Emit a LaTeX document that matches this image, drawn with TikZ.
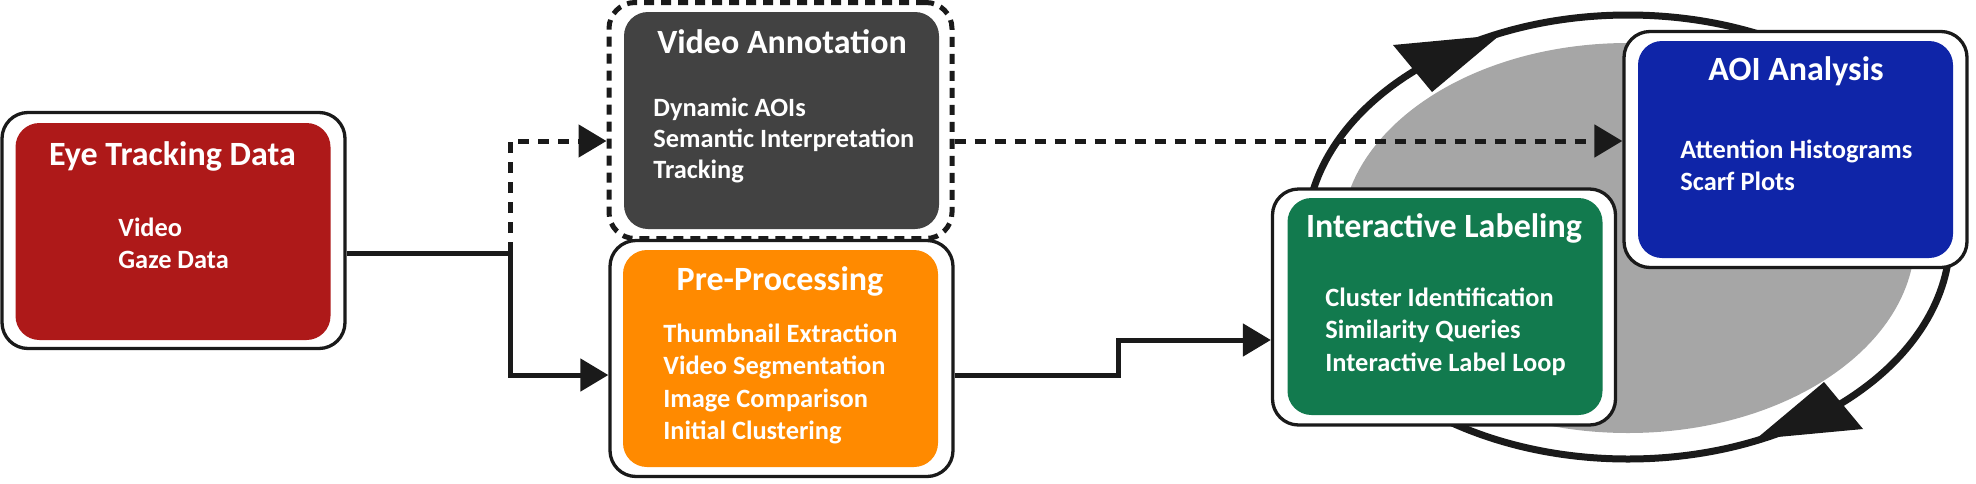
\documentclass[tikz,border=0pt]{standalone}
\usepackage{fontspec}
\setmainfont{Carlito}
\usetikzlibrary{arrows.meta}
\definecolor{cred}{HTML}{AE1919}
\definecolor{cdark}{HTML}{424242}
\definecolor{corange}{HTML}{FF8A00}
\definecolor{cgreen}{HTML}{127A4E}
\definecolor{cblue}{HTML}{0F25A8}
\definecolor{cgray}{HTML}{A6A6A6}
\definecolor{cline}{HTML}{1A1A1A}
\begin{document}
\begin{tikzpicture}[x=0.5pt,y=-0.5pt,
 outerbox/.style={draw=cline, line width=1.65pt, fill=white, rounded corners=13pt, minimum width=171.5pt, minimum height=118pt, inner sep=0pt},
 innerbox/.style={rounded corners=12pt, minimum width=157.5pt, minimum height=108.5pt, inner sep=0pt},
 titletext/.style={text=white, font=\bfseries\fontsize{17}{20}\selectfont, inner sep=0pt, anchor=base},
 bodytext/.style={text=white, font=\bfseries\fontsize{13.2}{16.25}\selectfont, inner sep=0pt, anchor=base west, align=left},
 conn/.style={draw=cline, line width=2.5pt, -{Triangle[length=14pt,width=16pt]}},
 dconn/.style={conn, dash pattern=on 5.5pt off 4.5pt},
 loopline/.style={draw=cline, line width=3.5pt},
]
\useasboundingbox (0,0) rectangle (1976,483);

% cycle behind the two right boxes
\fill[cgray] (1628,238) ellipse [x radius=143.5pt, y radius=97.5pt];
\draw[loopline] (1628,237) ellipse [x radius=161pt, y radius=111pt];
\fill[cline] (1500,35) -- (1393,45) -- (1432,92) -- cycle;
\fill[cline] (1756,439) -- (1863,429) -- (1824,382) -- cycle;

% Eye Tracking Data
\node[outerbox] (eyeo) at (173.5,230.5) {};
\node[innerbox, fill=cred] (eyei) at (173,231.5) {};
\node[titletext] (eyet) at (172.5,165) {Eye Tracking Data};
\node[bodytext] (eyeb) at (118,268.5) {Video\\Gaze Data};

% Video Annotation
\node[outerbox, line width=2.5pt, dash pattern=on 5pt off 3.5pt] (vido) at (780.5,120.5) {};
\node[innerbox, fill=cdark] (vidi) at (781.5,120.5) {};
\node[titletext] (vidt) at (782,53) {Video Annotation};
\node[bodytext, font=\bfseries\fontsize{13.2}{15.5}\selectfont] (vidb) at (653,178) {Dynamic AOIs\\Semantic Interpretation\\Tracking};

% Pre-Processing
\node[outerbox] (preo) at (781.5,358.5) {};
\node[innerbox, fill=corange] (prei) at (780.5,358.5) {};
\node[titletext] (pret) at (780,290) {Pre-Processing};
\node[bodytext] (preb) at (663,439.5) {Thumbnail Extraction\\Video Segmentation\\Image Comparison\\Initial Clustering};

% Interactive Labeling
\node[outerbox] (into) at (1444,307) {};
\node[innerbox, fill=cgreen] (inti) at (1445,306.5) {};
\node[titletext] (intt) at (1444,237) {Interactive Labeling};
\node[bodytext] (intb) at (1325,371) {Cluster Identification\\Similarity Queries\\Interactive Label Loop};

% AOI Analysis
\node[outerbox] (aoio) at (1795.5,149.5) {};
\node[innerbox, fill=cblue] (aoii) at (1795.5,149.5) {};
\node[titletext] (aoit) at (1796,80) {AOI Analysis};
\node[bodytext] (aoib) at (1680,190.5) {Attention Histograms\\Scarf Plots};

% connectors
\coordinate (j1) at (510,253);
\coordinate (j2) at (510,375);
\coordinate (j3) at (510,141);
\coordinate (j4) at (1118,375);
\coordinate (j5) at (1118,340);
\draw[conn] (eyeo.east |- j1) -- (j1) -- (j2) -- (preo.west |- j2);
\draw[dconn] (j1) -- (j3) -- (vido.west |- j3);
\draw[dconn] (vido.east |- j3) -- (aoio.west |- j3);
\draw[conn] (preo.east |- j4) -- (j4) -- (j5) -- (into.west |- j5);
\end{tikzpicture}
\end{document}
